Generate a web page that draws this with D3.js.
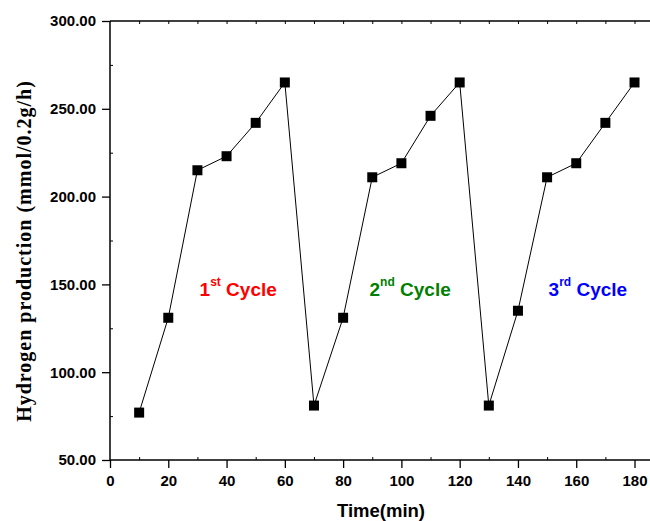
<!DOCTYPE html>
<html>
<head>
<meta charset="utf-8">
<script src="https://cdn.jsdelivr.net/npm/d3@7"></script>
<style>
  body { margin: 0; background: #fff; }
</style>
</head>
<body>
<div id="chart"></div>
<script>
// Data
const times = [10, 20, 30, 40, 50, 60, 70, 80, 90, 100, 110, 120, 130, 140, 150, 160, 170, 180];
const hydrogen = [77, 131, 215, 223, 242, 265, 81, 131, 211, 219, 246, 265, 81, 135, 211, 219, 242, 265];
const xTicks = [0, 20, 40, 60, 80, 100, 120, 140, 160, 180];
const yTicks = [50, 100, 150, 200, 250, 300];
const cycleLabels = ["1", "2", "3"];
const cycleSuffix = ["st", "nd", "rd"];
const cycleTimes = [44, 103, 164];
const cycleColors = ["#ff0000", "#008000", "#0000ff"];

const width = 650;
const height = 521;
const marginLeft = 110;
const marginTop = 21;
const plotBottom = 460;
const plotRight = 652;

const svg = d3.select("#chart").append("svg")
    .attr("width", width)
    .attr("height", height);

const x = d3.scaleLinear([0, 186], [marginLeft, plotRight]);
const y = d3.scaleLinear([50, 300], [plotBottom, marginTop]);

const fontSans = "Liberation Sans, Arial, sans-serif";

// Bottom axis: major ticks out, minor ticks in
svg.append("g")
    .attr("transform", `translate(0,${plotBottom})`)
    .call(d3.axisBottom(x).tickValues(xTicks).tickSize(8).tickPadding(7).tickFormat(d3.format("d")))
    .call(g => g.select(".domain").attr("stroke-width", 1.5).attr("d", `M${marginLeft},0H${plotRight}`))
    .call(g => g.selectAll(".tick line").attr("stroke-width", 1.3))
    .call(g => g.selectAll("text").attr("font-family", fontSans).attr("font-weight", "bold").attr("font-size", "15px"));

svg.append("g")
    .attr("transform", `translate(0,${plotBottom})`)
    .call(d3.axisBottom(x).tickValues(d3.range(10, 186, 20)).tickSize(-3).tickFormat(""))
    .call(g => g.select(".domain").remove());

// Top axis: ticks inside
svg.append("g")
    .attr("transform", `translate(0,${marginTop})`)
    .call(d3.axisTop(x).tickValues(d3.range(10, 186, 10)).tickSize(-3).tickFormat(""))
    .call(g => g.select(".domain").attr("stroke-width", 1.5).attr("d", `M${marginLeft},0H${plotRight}`));

// Left axis
svg.append("g")
    .attr("transform", `translate(${marginLeft},0)`)
    .call(d3.axisLeft(y).tickValues(yTicks).tickSize(8).tickPadding(6).tickFormat(d3.format(".2f")))
    .call(g => g.select(".domain").attr("stroke-width", 1.5).attr("d", `M0,${plotBottom}V${marginTop}`))
    .call(g => g.selectAll(".tick line").attr("stroke-width", 1.3))
    .call(g => g.selectAll("text").attr("font-family", fontSans).attr("font-weight", "bold").attr("font-size", "15px"));

svg.append("g")
    .attr("transform", `translate(${marginLeft},0)`)
    .call(d3.axisLeft(y).tickValues(d3.range(75, 300, 50)).tickSize(-3).tickFormat(""))
    .call(g => g.select(".domain").remove());

// Line
const line = d3.line()
    .x((d, i) => x(times[i]))
    .y(d => y(d));

svg.append("path")
    .datum(hydrogen)
    .attr("fill", "none")
    .attr("stroke", "#000")
    .attr("stroke-width", 1)
    .attr("d", line);

// Square markers
const s = 10;
svg.append("g")
    .selectAll("rect")
    .data(hydrogen)
    .join("rect")
    .attr("x", (d, i) => x(times[i]) - s / 2)
    .attr("y", d => y(d) - s / 2)
    .attr("width", s)
    .attr("height", s)
    .attr("fill", "#000");

// Cycle labels
const labels = svg.append("g")
    .selectAll("text")
    .data(cycleLabels)
    .join("text")
    .attr("x", (d, i) => x(cycleTimes[i]))
    .attr("y", 296)
    .attr("text-anchor", "middle")
    .attr("font-family", fontSans)
    .attr("font-weight", "bold")
    .attr("font-size", "19px")
    .attr("fill", (d, i) => cycleColors[i]);

labels.append("tspan").text(d => d);
labels.append("tspan")
    .attr("font-size", "12px")
    .attr("dy", -10)
    .text((d, i) => cycleSuffix[i]);
labels.append("tspan")
    .attr("dy", 10)
    .text(" Cycle");

// Axis titles
svg.append("text")
    .attr("x", 381)
    .attr("y", 517)
    .attr("text-anchor", "middle")
    .attr("font-family", fontSans)
    .attr("font-weight", "bold")
    .attr("font-size", "18.5px")
    .text("Time(min)");

svg.append("text")
    .attr("transform", `translate(31,251) rotate(-90)`)
    .attr("text-anchor", "middle")
    .attr("font-family", "Liberation Serif, Times New Roman, serif")
    .attr("font-weight", "bold")
    .attr("font-size", "20px")
    .attr("letter-spacing", "1px")
    .text("Hydrogen production (mmol/0.2g/h)");
</script>
</body>
</html>
